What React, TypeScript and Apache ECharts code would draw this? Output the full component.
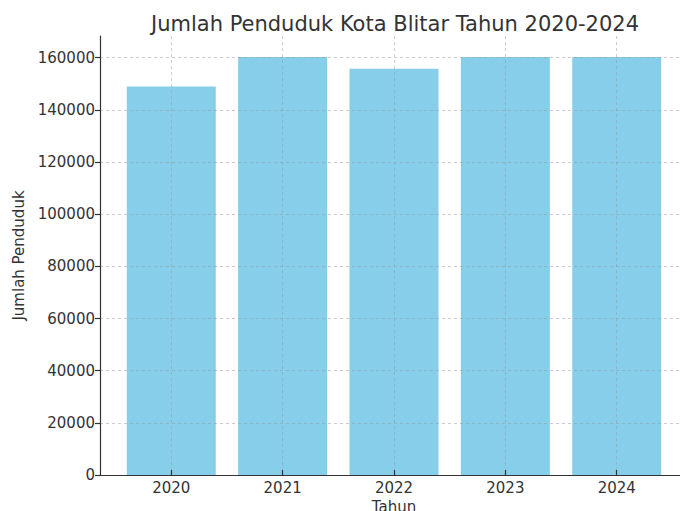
import React, { useEffect, useRef } from "react";
import * as echarts from "echarts";

const years = ["2020", "2021", "2022", "2023", "2024"];
const population = [149000, 160300, 155800, 160300, 160300];
const yTicks = [0, 20000, 40000, 60000, 80000, 100000, 120000, 140000, 160000];
const xTicks = [0, 1, 2, 3, 4];

const FONT = "DejaVu Sans";
const TEXT = "#333333";

export default function App() {
  const ref = useRef<HTMLDivElement>(null);
  useEffect(() => {
    if (!ref.current) return;
    const chart = echarts.init(ref.current, null, { renderer: "svg" });
    const n = years.length;
    const lo = -0.4 - 0.05 * (n - 1 + 0.8);
    const hi = n - 1 + 0.4 + 0.05 * (n - 1 + 0.8);
    const ymax = Math.max(...population) * 1.05;
    chart.setOption({
      animation: false,
      textStyle: { fontFamily: FONT },
      title: {
        text: "Jumlah Penduduk Kota Blitar Tahun 2020-2024",
        left: 390,
        top: 8,
        textAlign: "center",
        textStyle: { fontFamily: FONT, fontSize: 21, fontWeight: "normal", color: TEXT },
      },
      grid: { left: 100, top: 36, right: 12, bottom: 36, containLabel: false, outerBoundsMode: "none" },
      xAxis: {
        type: "value",
        min: lo,
        max: hi,
        z: 3,
        name: "Tahun",
        nameLocation: "middle",
        nameGap: 23,
        nameTextStyle: { fontFamily: FONT, fontSize: 15, color: TEXT, verticalAlign: "top" },
        axisLine: { show: true, onZero: false, lineStyle: { color: TEXT, width: 1.2 } },
        axisTick: { show: true, inside: true, length: 5, customValues: xTicks, lineStyle: { color: TEXT, width: 1.2 } },
        axisLabel: {
          customValues: xTicks,
          formatter: (v: number) => years[Math.round(v)] ?? "",
          fontFamily: FONT,
          fontSize: 15,
          color: TEXT,
          margin: 5,
        },
        splitLine: { show: true, lineStyle: { color: "rgba(150,150,150,0.55)", width: 0.9, type: [3, 3] } },
      },
      yAxis: {
        type: "value",
        min: 0,
        max: ymax,
        z: 3,
        name: "Jumlah Penduduk",
        nameLocation: "middle",
        nameRotate: 90,
        nameGap: 66,
        nameTextStyle: { fontFamily: FONT, fontSize: 15, color: TEXT },
        axisLine: { show: true, onZero: false, lineStyle: { color: TEXT, width: 1.2 } },
        axisTick: { show: true, inside: false, length: 5, customValues: yTicks, lineStyle: { color: TEXT, width: 1.2 } },
        axisLabel: {
          customValues: yTicks,
          formatter: (v: number) => String(v),
          fontFamily: FONT,
          fontSize: 15,
          color: TEXT,
          margin: 5,
        },
        splitLine: { show: true, lineStyle: { color: "rgba(150,150,150,0.55)", width: 0.9, type: [3, 3] } },
      },
      series: [
        {
          type: "bar",
          data: population.map((v, i) => [i, v]),
          barWidth: 89,
          itemStyle: { color: "#87CEEB" },
          z: 2,
        },
      ],
    });
    return () => chart.dispose();
  }, []);
  return (
    <div style={{ position: "fixed", left: 0, top: 0, width: 680, height: 511, overflow: "hidden", background: "#fff" }}>
      <div ref={ref} style={{ width: 700, height: 511 }} />
    </div>
  );
}
